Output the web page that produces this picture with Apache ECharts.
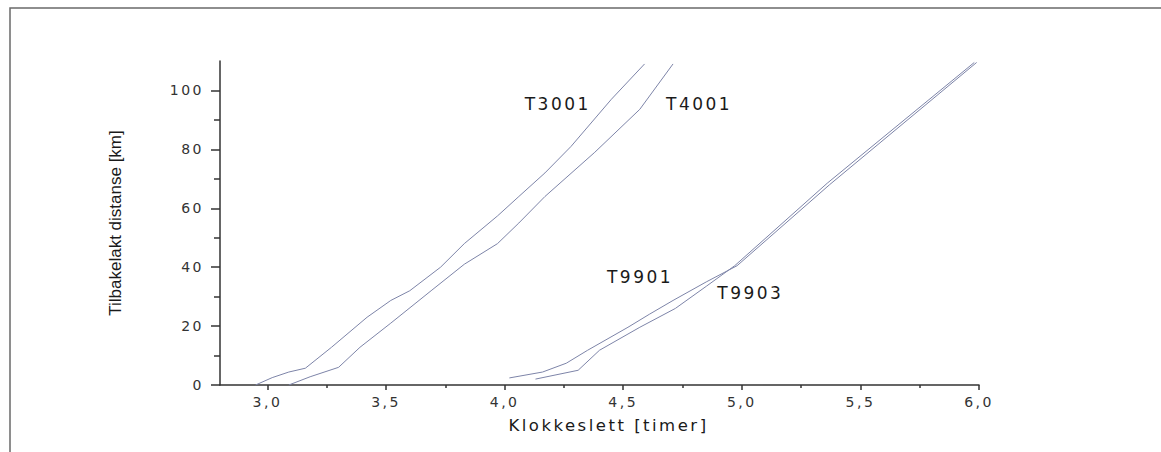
<!DOCTYPE html>
<html>
<head>
<meta charset="utf-8">
<script src="https://cdn.jsdelivr.net/npm/echarts@6/dist/echarts.min.js"></script>
<style>
html,body{margin:0;padding:0;background:#fff;}
#main{width:1161px;height:452px;}
#main svg text{letter-spacing:2.5px;}
#main svg text[style*="Narrow"]{letter-spacing:0px;}
</style>
</head>
<body>
<div id="main"></div>
<script>
// ---- data (hours, km) ----
const t3001X = [2.95, 3.02, 3.09, 3.16, 3.27, 3.42, 3.52, 3.60, 3.73, 3.83, 3.97, 4.06, 4.17, 4.28, 4.45, 4.59];
const t3001Y = [0, 2.5, 4.4, 5.7, 12.8, 23, 28.7, 32, 40, 48, 57.4, 64, 72, 81, 97, 109];
const t4001X = [3.09, 3.18, 3.30, 3.39, 3.52, 3.69, 3.83, 3.97, 4.06, 4.17, 4.38, 4.57, 4.71];
const t4001Y = [0, 2.8, 6, 12.8, 21, 32, 41, 48, 55, 64, 79, 93.6, 109];
const t9901X = [4.02, 4.16, 4.26, 4.35, 4.52, 4.61, 4.71, 4.85, 4.98, 5.37, 5.99];
const t9901Y = [2.4, 4.4, 7.4, 11.8, 19.6, 24, 28.7, 35, 40.5, 68, 109.5];
const t9903X = [4.13, 4.31, 4.40, 4.57, 4.72, 4.85, 4.97, 5.36, 5.98];
const t9903Y = [2.0, 5, 11.8, 19.6, 26, 33.5, 40.5, 68.5, 109.5];

const seriesNames = ['T3001', 'T4001', 'T9901', 'T9903'];
// label anchor positions in data units
const labelX = [4.224, 4.82, 4.571, 5.036];
const labelY = [95.3, 95.3, 36.5, 31.1];

const xMajorTicks = [3.0, 3.5, 4.0, 4.5, 5.0, 5.5, 6.0];
const xMinorTicks = [3.25, 3.75, 4.25, 4.75, 5.25, 5.75];
const yMajorTicks = [0, 20, 40, 60, 80, 100];
const yMinorTicks = [10, 30, 50, 70, 90];

const xs = [t3001X, t4001X, t9901X, t9903X];
const ys = [t3001Y, t4001Y, t9901Y, t9903Y];

const lineColor = '#7d84a8';
const axisColor = '#333';
const mainFont = '"DejaVu Sans", sans-serif';

function pairs(a, b) { return a.map((v, i) => [v, b[i]]); }

const series = seriesNames.map((name, i) => ({
  name: name,
  type: 'line',
  data: pairs(xs[i], ys[i]),
  showSymbol: false,
  symbol: 'none',
  lineStyle: { color: lineColor, width: 1 },
  animation: false,
  markPoint: {
    symbol: 'circle',
    symbolSize: 0,
    silent: true,
    label: {
      show: true,
      position: 'inside',
      formatter: name,
      color: '#1a1a1a',
      fontFamily: mainFont,
      fontSize: 17
    },
    data: [{ coord: [labelX[i], labelY[i]] }]
  }
}));

const chart = echarts.init(document.getElementById('main'), null, { renderer: 'svg' });
chart.setOption({
  backgroundColor: '#fff',
  animation: false,
  graphic: [{
    type: 'rect',
    shape: { x: 10, y: 8, width: 1400, height: 700 },
    style: { fill: 'none', stroke: '#6a6a6a', lineWidth: 1.5 },
    silent: true
  }],
  grid: { left: 220, right: 182, top: 61, bottom: 67, containLabel: false },
  xAxis: [{
    type: 'value',
    min: 2.8,
    max: 6.0,
    name: 'Klokkeslett [timer]',
    nameLocation: 'middle',
    nameGap: 32,
    nameTextStyle: { fontFamily: mainFont, fontSize: 16.5, color: '#1a1a1a', padding: [0, 0, 0, 18] },
    axisLine: { show: true, onZero: false, lineStyle: { color: axisColor, width: 1.5 } },
    axisTick: { show: true, customValues: xMajorTicks, length: 5, lineStyle: { color: axisColor, width: 1.5 } },
    axisLabel: {
      customValues: xMajorTicks,
      formatter: v => v.toFixed(1).replace('.', ','),
      fontFamily: mainFont, fontSize: 14, color: '#333', margin: 10
    },
    splitLine: { show: false }
  }, {
    type: 'value',
    min: 2.8,
    max: 6.0,
    position: 'bottom',
    axisLine: { show: false, onZero: false },
    axisTick: { show: true, customValues: xMinorTicks, length: 3, lineStyle: { color: axisColor, width: 1.5 } },
    axisLabel: { show: false },
    splitLine: { show: false }
  }],
  yAxis: [{
    type: 'value',
    min: 0,
    max: 110,
    name: 'Tilbakelakt distanse [km]',
    nameLocation: 'middle',
    nameGap: 96,
    nameTextStyle: { fontFamily: '"Liberation Sans Narrow", "Arial Narrow", sans-serif', fontSize: 17, color: '#1a1a1a' },
    axisLine: { show: true, onZero: false, lineStyle: { color: axisColor, width: 1.5 } },
    axisTick: { show: true, customValues: yMajorTicks, length: 9, lineStyle: { color: axisColor, width: 1.5 } },
    axisLabel: {
      customValues: yMajorTicks,
      fontFamily: mainFont, fontSize: 14, color: '#333', margin: 16
    },
    splitLine: { show: false }
  }, {
    type: 'value',
    min: 0,
    max: 110,
    position: 'left',
    axisLine: { show: false, onZero: false },
    axisTick: { show: true, customValues: yMinorTicks, length: 6, lineStyle: { color: axisColor, width: 1.5 } },
    axisLabel: { show: false },
    splitLine: { show: false }
  }],
  series: series
});
</script>
</body>
</html>
